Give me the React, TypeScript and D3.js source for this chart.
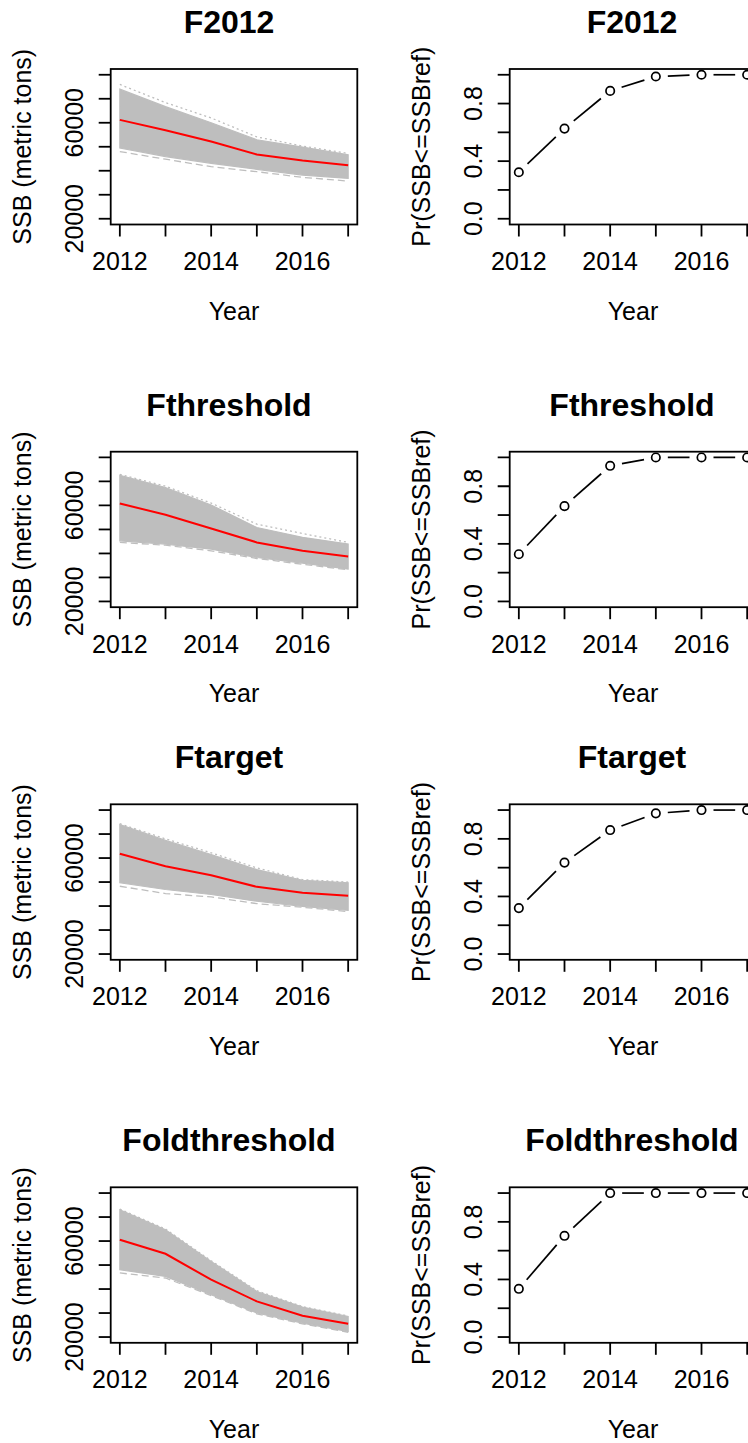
import React, { useEffect } from "react";
import * as d3 from "d3";

// ---------- DATA ----------
const YEARS = [2012, 2013, 2014, 2015, 2016, 2017];
const SCENARIOS = ["F2012", "Fthreshold", "Ftarget", "Foldthreshold"];

// median SSB (red line)
const MEDIAN_F2012 = [61200, 56850, 52200, 46750, 44230, 42300];
const MEDIAN_FTHRESHOLD = [60833, 56100, 50400, 44600, 41100, 38750];
const MEDIAN_FTARGET = [61790, 56600, 52850, 48000, 45500, 44240];
const MEDIAN_FOLDTHRESHOLD = [60540, 54700, 43900, 34850, 28900, 25540];

// envelope of the simulated trajectories (grey spaghetti)
const UPPER_F2012 = [74000, 66700, 60000, 52900, 49870, 46630];
const LOWER_F2012 = [49450, 45900, 43100, 40600, 38200, 36800];
const UPPER_FTHRESHOLD = [72600, 67500, 60200, 50800, 46700, 43900];
const LOWER_FTHRESHOLD = [45250, 43900, 41800, 38300, 36000, 33460];
const UPPER_FTARGET = [74000, 67350, 61500, 55200, 50750, 49700];
const LOWER_FTARGET = [49700, 46900, 44800, 42000, 39900, 38200];
const UPPER_FOLDTHRESHOLD = [73040, 64700, 51500, 39000, 32500, 28600];
const LOWER_FOLDTHRESHOLD = [48040, 45250, 37600, 30000, 25800, 22300];

// outlying trajectories (dashed / dotted grey)
const OUTER_UPPER_F2012 = [75950, 68400, 62000, 54100, 50300, 47200];
const OUTER_LOWER_F2012 = [48000, 44800, 41700, 39600, 37250, 35700];
const OUTER_UPPER_FTHRESHOLD = [73000, 68000, 61000, 52200, 48300, 44600];
const OUTER_LOWER_FTHRESHOLD = [44600, 43450, 41100, 37900, 35500, 33200];
const OUTER_UPPER_FTARGET = [74300, 68000, 62200, 55900, 51000, 50000];
const OUTER_LOWER_FTARGET = [48250, 45200, 43800, 41000, 39500, 37700];
const OUTER_UPPER_FOLDTHRESHOLD = [73330, 65000, 51800, 39300, 32700, 28800];
const OUTER_LOWER_FOLDTHRESHOLD = [46700, 44600, 37300, 29700, 25500, 22000];

// Pr(SSB <= SSBref)
const PROB_F2012 = [0.323, 0.626, 0.888, 0.988, 1.0, 1.0];
const PROB_FTHRESHOLD = [0.328, 0.662, 0.942, 1.0, 1.0, 1.0];
const PROB_FTARGET = [0.319, 0.635, 0.861, 0.977, 1.0, 1.0];
const PROB_FOLDTHRESHOLD = [0.335, 0.703, 1.0, 1.0, 1.0, 1.0];

// ticks and tick labels
const X_TICKS = [2012, 2013, 2014, 2015, 2016, 2017];
const X_TICK_LABELS = [2012, 2014, 2016];
const SSB_TICKS = [20000, 30000, 40000, 50000, 60000, 70000, 80000];
const SSB_TICK_LABELS = [20000, 60000];
const PROB_TICKS = [0, 0.2, 0.4, 0.6, 0.8, 1.0];
const PROB_TICK_LABELS = ["0.0", "0.4", "0.8"];
const PROB_TICK_LABEL_VALUES = [0, 0.4, 0.8];

const MEDIANS = [MEDIAN_F2012, MEDIAN_FTHRESHOLD, MEDIAN_FTARGET, MEDIAN_FOLDTHRESHOLD];
const UPPERS = [UPPER_F2012, UPPER_FTHRESHOLD, UPPER_FTARGET, UPPER_FOLDTHRESHOLD];
const LOWERS = [LOWER_F2012, LOWER_FTHRESHOLD, LOWER_FTARGET, LOWER_FOLDTHRESHOLD];
const OUTER_UPPERS = [OUTER_UPPER_F2012, OUTER_UPPER_FTHRESHOLD, OUTER_UPPER_FTARGET, OUTER_UPPER_FOLDTHRESHOLD];
const OUTER_LOWERS = [OUTER_LOWER_F2012, OUTER_LOWER_FTHRESHOLD, OUTER_LOWER_FTARGET, OUTER_LOWER_FOLDTHRESHOLD];
const PROBS = [PROB_F2012, PROB_FTHRESHOLD, PROB_FTARGET, PROB_FOLDTHRESHOLD];

// ---------- LAYOUT ----------
const W = 748;
const H = 1443;
const ROW_TOPS = [0, 382.7, 735.3, 1118.3];
const ROW2_CLIP_BOTTOM = 703;
const BOX_TOP = 69;
const BOX_H = 155.5;
const BOX_W = 246.6;
const LEFT_X0 = 110.7;
const RIGHT_X0 = 509.7;
const FONT = "'Liberation Sans', Arial, Helvetica, sans-serif";
const GREY = "#BEBEBE";
const TICK_LEN = 12;
const AXIS_FS = 25;

function xScaleFor(x0: number) {
  return d3.scaleLinear().domain([2011.8, 2017.2]).range([x0, x0 + BOX_W]);
}

function Axes({ x, y, xTicks, yTicks, yLabels, x0, title, titleX, ylab }: any) {
  const bottom = BOX_TOP + BOX_H;
  return (
    <g>
      <rect x={x0} y={BOX_TOP} width={BOX_W} height={BOX_H} fill="none" stroke="#000" strokeWidth={1.8} />
      {xTicks.map((t: number) => (
        <line key={"xt" + t} x1={x(t)} x2={x(t)} y1={bottom} y2={bottom + TICK_LEN} stroke="#000" strokeWidth={1.8} />
      ))}
      {X_TICK_LABELS.map((t) => (
        <text key={"xl" + t} x={x(t)} y={bottom + 45.5} fontSize={AXIS_FS} textAnchor="middle" fill="#000">
          {t}
        </text>
      ))}
      {yTicks.map((t: number) => (
        <line key={"yt" + t} x1={x0 - TICK_LEN} x2={x0} y1={y(t)} y2={y(t)} stroke="#000" strokeWidth={1.8} />
      ))}
      {yLabels.map((l: any) => (
        <text
          key={"yl" + l.text}
          transform={`translate(${x0 - 28},${y(l.value)}) rotate(-90)`}
          fontSize={AXIS_FS}
          textAnchor="middle"
          fill="#000"
        >
          {l.text}
        </text>
      ))}
      <text x={x0 + BOX_W / 2} y={bottom + 95} fontSize={AXIS_FS} textAnchor="middle" fill="#000">
        Year
      </text>
      <text
        transform={`translate(${x0 - 80},${BOX_TOP + BOX_H / 2}) rotate(-90)`}
        fontSize={AXIS_FS}
        textAnchor="middle"
        fill="#000"
      >
        {ylab}
      </text>
      <text x={titleX} y={BOX_TOP - 36} fontSize={32} fontWeight="bold" textAnchor="middle" fill="#000">
        {title}
      </text>
    </g>
  );
}

function SSBPanel({ idx }: { idx: number }) {
  const x = xScaleFor(LEFT_X0);
  const y = d3.scaleLinear().domain([17600, 82400]).range([BOX_TOP + BOX_H, BOX_TOP]);
  const upper = UPPERS[idx];
  const lower = LOWERS[idx];
  const area = d3
    .area<number>()
    .x((_, i) => x(YEARS[i]))
    .y0((_, i) => y(lower[i]))
    .y1((_, i) => y(upper[i]));
  const line = d3
    .line<number>()
    .x((_, i) => x(YEARS[i]))
    .y((d) => y(d));
  const clipId = "plotclip" + idx;
  return (
    <g>
      <defs>
        <clipPath id={clipId}>
          <rect x={LEFT_X0} y={BOX_TOP} width={BOX_W} height={BOX_H} />
        </clipPath>
      </defs>
      <g clipPath={`url(#${clipId})`}>
        <path d={area(upper) || ""} fill={GREY} stroke={GREY} strokeWidth={1.2} />
        <path d={line(OUTER_UPPERS[idx]) || ""} fill="none" stroke={GREY} strokeWidth={1.3} strokeDasharray="2,3" />
        <path d={line(OUTER_LOWERS[idx]) || ""} fill="none" stroke={GREY} strokeWidth={1.3} strokeDasharray="7,4" />
        <path d={line(MEDIANS[idx]) || ""} fill="none" stroke="#FF0000" strokeWidth={2} />
      </g>
      <Axes
        x={x}
        y={y}
        x0={LEFT_X0}
        xTicks={X_TICKS}
        yTicks={SSB_TICKS}
        yLabels={SSB_TICK_LABELS.map((v) => ({ value: v, text: String(v) }))}
        title={SCENARIOS[idx]}
        titleX={229}
        ylab="SSB (metric tons)"
      />
    </g>
  );
}

function ProbPanel({ idx }: { idx: number }) {
  const x = xScaleFor(RIGHT_X0);
  const y = d3.scaleLinear().domain([-0.04, 1.04]).range([BOX_TOP + BOX_H, BOX_TOP]);
  const vals = PROBS[idx];
  const pts = vals.map((v, i) => [x(YEARS[i]), y(v)] as [number, number]);
  const gap = 12;
  const segs: any[] = [];
  for (let i = 0; i < pts.length - 1; i++) {
    const [x1, y1] = pts[i];
    const [x2, y2] = pts[i + 1];
    const len = Math.hypot(x2 - x1, y2 - y1);
    if (len <= 2 * gap) continue;
    const ux = (x2 - x1) / len;
    const uy = (y2 - y1) / len;
    segs.push(
      <line
        key={"s" + i}
        x1={x1 + ux * gap}
        y1={y1 + uy * gap}
        x2={x2 - ux * gap}
        y2={y2 - uy * gap}
        stroke="#000"
        strokeWidth={1.7}
      />
    );
  }
  return (
    <g>
      {segs}
      {pts.map((p, i) => (
        <circle key={"p" + i} cx={p[0]} cy={p[1]} r={4.2} fill="none" stroke="#000" strokeWidth={1.7} />
      ))}
      <Axes
        x={x}
        y={y}
        x0={RIGHT_X0}
        xTicks={X_TICKS}
        yTicks={PROB_TICKS}
        yLabels={PROB_TICK_LABELS.map((t, i) => ({ value: PROB_TICK_LABEL_VALUES[i], text: t }))}
        title={SCENARIOS[idx]}
        titleX={632}
        ylab="Pr(SSB<=SSBref)"
      />
    </g>
  );
}

export default function App() {
  useEffect(() => {
    document.body.style.margin = "0";
    document.body.style.overflow = "hidden";
  }, []);
  return (
    <svg
      width={W}
      height={H}
      style={{ position: "absolute", left: 0, top: 0, display: "block" }}
      fontFamily={FONT}
    >
      <rect x={0} y={0} width={W} height={H} fill="#fff" />
      <defs>
        <clipPath id="row2clip">
          <rect x={0} y={ROW_TOPS[1]} width={W} height={ROW2_CLIP_BOTTOM - ROW_TOPS[1]} />
        </clipPath>
      </defs>
      {SCENARIOS.map((name, i) => (
        <g key={name} clipPath={i === 1 ? "url(#row2clip)" : undefined}>
          <g transform={`translate(0,${ROW_TOPS[i]})`}>
            <SSBPanel idx={i} />
            <ProbPanel idx={i} />
          </g>
        </g>
      ))}
    </svg>
  );
}
